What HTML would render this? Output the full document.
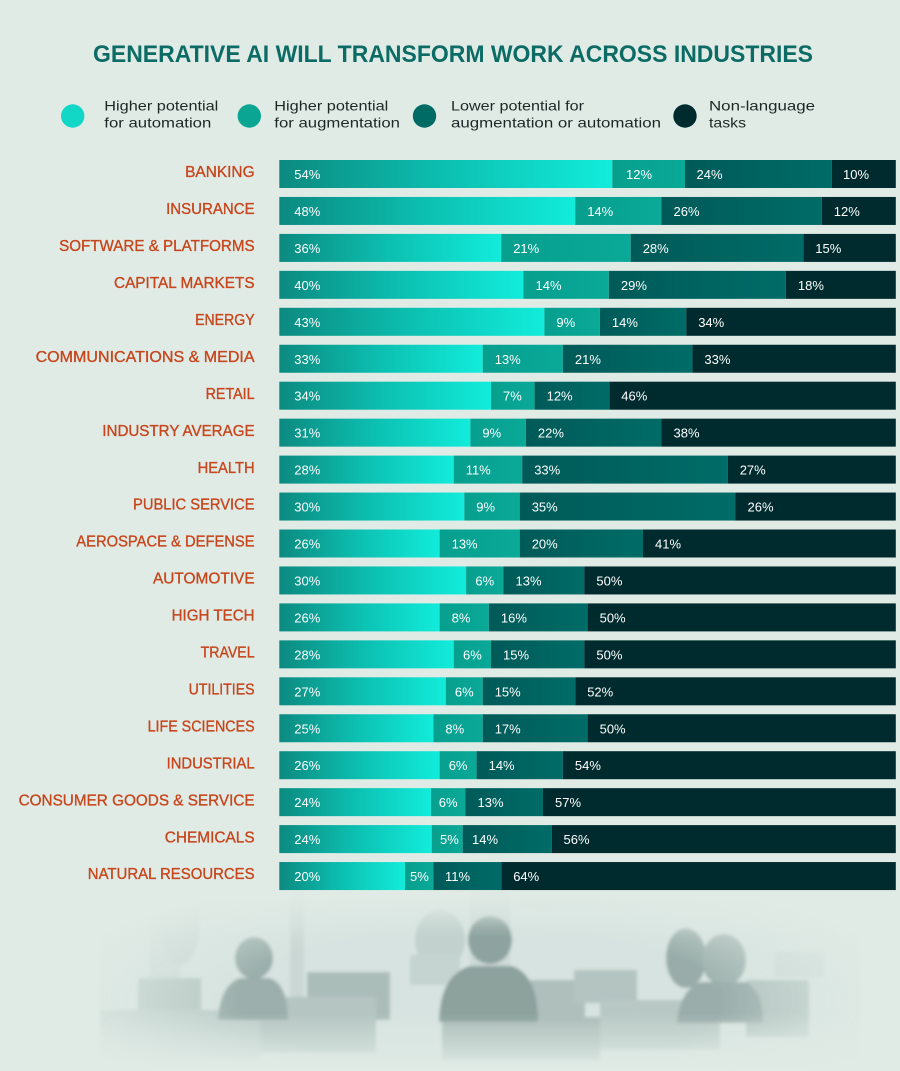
<!DOCTYPE html>
<html>
<head>
<meta charset="utf-8">
<style>
html,body{margin:0;padding:0;background:#e0ebe6;}
svg{display:block;}
.lb{font-family:"Liberation Sans",sans-serif;font-size:16px;fill:#c8461c;stroke:#c8461c;stroke-width:0.35;text-anchor:end;}
.v{font-family:"Liberation Sans",sans-serif;font-size:13px;fill:#ffffff;}
.lg{font-family:"Liberation Sans",sans-serif;font-size:14px;fill:#1c2826;}
</style>
</head>
<body>
<svg width="900" height="1071" viewBox="0 0 900 1071" xmlns="http://www.w3.org/2000/svg">
<defs>
<linearGradient id="g1" x1="0" x2="1" y1="0" y2="0"><stop offset="0" stop-color="#0c8a80"/><stop offset="0.5" stop-color="#0cc0b1"/><stop offset="1" stop-color="#12ecdb"/></linearGradient>
<linearGradient id="g2" x1="0" x2="1" y1="0" y2="0"><stop offset="0" stop-color="#079f8e"/><stop offset="1" stop-color="#0aa998"/></linearGradient>
<linearGradient id="g3" x1="0" x2="1" y1="0" y2="0"><stop offset="0" stop-color="#005a58"/><stop offset="1" stop-color="#006c67"/></linearGradient>
<radialGradient id="fade" cx="480" cy="1000" r="440" gradientUnits="userSpaceOnUse" gradientTransform="translate(480 1000) scale(1 0.3) translate(-480 -1000)">
<stop offset="0" stop-color="#fff"/><stop offset="0.55" stop-color="#fff"/><stop offset="1" stop-color="#000"/></radialGradient>
<linearGradient id="vfade" x1="0" x2="0" y1="880" y2="1071" gradientUnits="userSpaceOnUse">
<stop offset="0" stop-color="#000"/><stop offset="0.3" stop-color="#fff"/><stop offset="0.7" stop-color="#fff"/><stop offset="1" stop-color="#000"/></linearGradient>
<mask id="m1"><rect x="0" y="860" width="900" height="211" fill="url(#fade)"/></mask>
<mask id="m2"><rect x="0" y="860" width="900" height="211" fill="url(#vfade)"/></mask>
<filter id="bl"><feGaussianBlur stdDeviation="1.6"/></filter>
</defs>

<rect width="900" height="1071" fill="#e0ebe6"/>

<!-- background photo approximation -->
<g mask="url(#m2)">
<g mask="url(#m1)" opacity="0.85">
<g filter="url(#bl)">
<rect x="100" y="900" width="760" height="171" fill="#d5e2de"/>
<rect x="150" y="895" width="30" height="120" fill="#cad8d4"/>
<rect x="290" y="890" width="14" height="140" fill="#c6d4d0"/>
<rect x="470" y="890" width="40" height="80" fill="#c9d7d3"/>
<rect x="520" y="900" width="200" height="8" fill="#cfdcd8"/>
<ellipse cx="440" cy="940" rx="25" ry="30" fill="#bccdc9"/>
<ellipse cx="180" cy="920" rx="20" ry="45" fill="#c4d3cf"/>
<rect x="138" y="978" width="63" height="42" fill="#b0c1bd"/>
<rect x="307" y="972" width="83" height="48" fill="#a2b5b1"/>
<rect x="247" y="997" width="129" height="56" fill="#adbfbb"/>
<rect x="517" y="980" width="68" height="40" fill="#a6b8b4"/>
<rect x="574" y="970" width="63" height="33" fill="#acbeba"/>
<rect x="442" y="1017" width="158" height="43" fill="#a1b4b0"/>
<rect x="746" y="980" width="63" height="57" fill="#aabcb8"/>
<rect x="775" y="952" width="49" height="25" fill="#c8d6d2"/>
<rect x="410" y="955" width="50" height="30" fill="#c0d0cc"/>
<rect x="100" y="1010" width="160" height="50" fill="#b8c9c5"/>
<rect x="600" y="1000" width="120" height="50" fill="#b1c2be"/>
<!-- people -->
<ellipse cx="254" cy="958" rx="19" ry="21" fill="#8ea4a0"/>
<path d="M218 1020 Q220 985 240 978 L270 978 Q288 985 288 1020 Z" fill="#90a5a1"/>
<ellipse cx="490" cy="940" rx="22" ry="24" fill="#7f9692"/>
<path d="M439 1022 Q440 975 470 966 L512 966 Q538 975 538 1022 Z" fill="#7e9490"/>
<ellipse cx="686" cy="958" rx="20" ry="30" fill="#8ca29e"/>
<ellipse cx="724" cy="960" rx="22" ry="26" fill="#95aaa6"/>
<path d="M677 1023 Q680 990 700 982 L745 982 Q763 990 763 1023 Z" fill="#8ea3a0"/>
</g>
</g>
</g>

<!-- title -->
<text x="93" y="62" textLength="720" lengthAdjust="spacingAndGlyphs" style="font-family:'Liberation Sans',sans-serif;font-size:24px;font-weight:bold;fill:#0c6c65;">GENERATIVE AI WILL TRANSFORM WORK ACROSS INDUSTRIES</text>

<!-- legend -->
<circle cx="72.7" cy="116" r="11.7" fill="#12d6c6"/>
<circle cx="249.3" cy="116" r="11.7" fill="#0aa593"/>
<circle cx="424.5" cy="116" r="11.7" fill="#006a65"/>
<circle cx="685" cy="116" r="11.7" fill="#002b2e"/>
<text class="lg" x="104.3" y="110.7" textLength="114" lengthAdjust="spacingAndGlyphs">Higher potential</text>
<text class="lg" x="104.3" y="127.3" textLength="107" lengthAdjust="spacingAndGlyphs">for automation</text>
<text class="lg" x="274.3" y="110.7" textLength="114" lengthAdjust="spacingAndGlyphs">Higher potential</text>
<text class="lg" x="274.3" y="127.3" textLength="125.7" lengthAdjust="spacingAndGlyphs">for augmentation</text>
<text class="lg" x="451" y="110.7" textLength="133" lengthAdjust="spacingAndGlyphs">Lower potential for</text>
<text class="lg" x="451" y="127.3" textLength="210" lengthAdjust="spacingAndGlyphs">augmentation or automation</text>
<text class="lg" x="709" y="110.7" textLength="106" lengthAdjust="spacingAndGlyphs">Non-language</text>
<text class="lg" x="709" y="127.3" textLength="37" lengthAdjust="spacingAndGlyphs">tasks</text>

<!-- rows -->
<g transform="translate(0,160)">
<text class="lb" x="254.6" y="17.2" textLength="69.5" lengthAdjust="spacingAndGlyphs">BANKING</text>
<rect x="279.3" y="0" width="333" height="28" fill="url(#g1)"/>
<rect x="612.3" y="0" width="72.7" height="28" fill="url(#g2)"/>
<rect x="685" y="0" width="146.7" height="28" fill="url(#g3)"/>
<rect x="831.7" y="0" width="64.1" height="28" fill="#002b2e"/>
<text class="v" x="294.3" y="19">54%</text><text class="v" x="626" y="19">12%</text><text class="v" x="696.5" y="19">24%</text><text class="v" x="843" y="19">10%</text>
</g>

<g transform="translate(0,196.95)">
<text class="lb" x="254.6" y="17.2" textLength="88.5" lengthAdjust="spacingAndGlyphs">INSURANCE</text>
<rect x="279.3" y="0" width="295.9" height="28" fill="url(#g1)"/>
<rect x="575.2" y="0" width="86.3" height="28" fill="url(#g2)"/>
<rect x="661.5" y="0" width="160.3" height="28" fill="url(#g3)"/>
<rect x="821.8" y="0" width="74" height="28" fill="#002b2e"/>
<text class="v" x="294.3" y="19">48%</text><text class="v" x="587.2" y="19">14%</text><text class="v" x="673.5" y="19">26%</text><text class="v" x="833.8" y="19">12%</text>
</g>

<g transform="translate(0,233.9)">
<text class="lb" x="254.6" y="17.2" textLength="195.5" lengthAdjust="spacingAndGlyphs">SOFTWARE &amp; PLATFORMS</text>
<rect x="279.3" y="0" width="221.9" height="28" fill="url(#g1)"/>
<rect x="501.2" y="0" width="129.5" height="28" fill="url(#g2)"/>
<rect x="630.7" y="0" width="172.6" height="28" fill="url(#g3)"/>
<rect x="803.3" y="0" width="92.5" height="28" fill="#002b2e"/>
<text class="v" x="294.3" y="19">36%</text><text class="v" x="513.2" y="19">21%</text><text class="v" x="642.7" y="19">28%</text><text class="v" x="815.3" y="19">15%</text>
</g>

<g transform="translate(0,270.85)">
<text class="lb" x="254.6" y="17.2" textLength="140.6" lengthAdjust="spacingAndGlyphs">CAPITAL MARKETS</text>
<rect x="279.3" y="0" width="244.2" height="28" fill="url(#g1)"/>
<rect x="523.5" y="0" width="85.4" height="28" fill="url(#g2)"/>
<rect x="608.9" y="0" width="177" height="28" fill="url(#g3)"/>
<rect x="785.9" y="0" width="109.9" height="28" fill="#002b2e"/>
<text class="v" x="294.3" y="19">40%</text><text class="v" x="535.5" y="19">14%</text><text class="v" x="620.9" y="19">29%</text><text class="v" x="797.9" y="19">18%</text>
</g>

<g transform="translate(0,307.8)">
<text class="lb" x="254.6" y="17.2" textLength="59.5" lengthAdjust="spacingAndGlyphs">ENERGY</text>
<rect x="279.3" y="0" width="265.1" height="28" fill="url(#g1)"/>
<rect x="544.4" y="0" width="55.5" height="28" fill="url(#g2)"/>
<rect x="599.9" y="0" width="86.3" height="28" fill="url(#g3)"/>
<rect x="686.2" y="0" width="209.6" height="28" fill="#002b2e"/>
<text class="v" x="294.3" y="19">43%</text><text class="v" x="556.4" y="19">9%</text><text class="v" x="611.9" y="19">14%</text><text class="v" x="698.2" y="19">34%</text>
</g>

<g transform="translate(0,344.75)">
<text class="lb" x="254.6" y="17.2" textLength="219" lengthAdjust="spacingAndGlyphs">COMMUNICATIONS &amp; MEDIA</text>
<rect x="279.3" y="0" width="203.4" height="28" fill="url(#g1)"/>
<rect x="482.7" y="0" width="80.2" height="28" fill="url(#g2)"/>
<rect x="562.9" y="0" width="129.5" height="28" fill="url(#g3)"/>
<rect x="692.4" y="0" width="203.4" height="28" fill="#002b2e"/>
<text class="v" x="294.3" y="19">33%</text><text class="v" x="494.7" y="19">13%</text><text class="v" x="574.9" y="19">21%</text><text class="v" x="704.4" y="19">33%</text>
</g>

<g transform="translate(0,381.7)">
<text class="lb" x="254.6" y="17.2" textLength="49" lengthAdjust="spacingAndGlyphs">RETAIL</text>
<rect x="279.3" y="0" width="211.7" height="28" fill="url(#g1)"/>
<rect x="491" y="0" width="43.6" height="28" fill="url(#g2)"/>
<rect x="534.6" y="0" width="74.7" height="28" fill="url(#g3)"/>
<rect x="609.3" y="0" width="286.5" height="28" fill="#002b2e"/>
<text class="v" x="294.3" y="19">34%</text><text class="v" x="503" y="19">7%</text><text class="v" x="546.6" y="19">12%</text><text class="v" x="621.3" y="19">46%</text>
</g>

<g transform="translate(0,418.65)">
<text class="lb" x="254.6" y="17.2" textLength="152.3" lengthAdjust="spacingAndGlyphs">INDUSTRY AVERAGE</text>
<rect x="279.3" y="0" width="191.1" height="28" fill="url(#g1)"/>
<rect x="470.4" y="0" width="55.5" height="28" fill="url(#g2)"/>
<rect x="525.9" y="0" width="135.6" height="28" fill="url(#g3)"/>
<rect x="661.5" y="0" width="234.3" height="28" fill="#002b2e"/>
<text class="v" x="294.3" y="19">31%</text><text class="v" x="482.4" y="19">9%</text><text class="v" x="537.9" y="19">22%</text><text class="v" x="673.5" y="19">38%</text>
</g>

<g transform="translate(0,455.6)">
<text class="lb" x="254.6" y="17.2" textLength="57" lengthAdjust="spacingAndGlyphs">HEALTH</text>
<rect x="279.3" y="0" width="174.4" height="28" fill="url(#g1)"/>
<rect x="453.7" y="0" width="68.5" height="28" fill="url(#g2)"/>
<rect x="522.2" y="0" width="205.5" height="28" fill="url(#g3)"/>
<rect x="727.7" y="0" width="168.1" height="28" fill="#002b2e"/>
<text class="v" x="294.3" y="19">28%</text><text class="v" x="465.7" y="19">11%</text><text class="v" x="534.2" y="19">33%</text><text class="v" x="739.7" y="19">27%</text>
</g>

<g transform="translate(0,492.55)">
<text class="lb" x="254.6" y="17.2" textLength="121.6" lengthAdjust="spacingAndGlyphs">PUBLIC SERVICE</text>
<rect x="279.3" y="0" width="185" height="28" fill="url(#g1)"/>
<rect x="464.3" y="0" width="55.4" height="28" fill="url(#g2)"/>
<rect x="519.7" y="0" width="215.8" height="28" fill="url(#g3)"/>
<rect x="735.5" y="0" width="160.3" height="28" fill="#002b2e"/>
<text class="v" x="294.3" y="19">30%</text><text class="v" x="476.3" y="19">9%</text><text class="v" x="531.7" y="19">35%</text><text class="v" x="747.5" y="19">26%</text>
</g>

<g transform="translate(0,529.5)">
<text class="lb" x="254.6" y="17.2" textLength="178.3" lengthAdjust="spacingAndGlyphs">AEROSPACE &amp; DEFENSE</text>
<rect x="279.3" y="0" width="160.3" height="28" fill="url(#g1)"/>
<rect x="439.6" y="0" width="80.1" height="28" fill="url(#g2)"/>
<rect x="519.7" y="0" width="123.3" height="28" fill="url(#g3)"/>
<rect x="643" y="0" width="252.8" height="28" fill="#002b2e"/>
<text class="v" x="294.3" y="19">26%</text><text class="v" x="451.6" y="19">13%</text><text class="v" x="531.7" y="19">20%</text><text class="v" x="655" y="19">41%</text>
</g>

<g transform="translate(0,566.45)">
<text class="lb" x="254.6" y="17.2" textLength="101.6" lengthAdjust="spacingAndGlyphs">AUTOMOTIVE</text>
<rect x="279.3" y="0" width="186.8" height="28" fill="url(#g1)"/>
<rect x="466.1" y="0" width="37.4" height="28" fill="url(#g2)"/>
<rect x="503.5" y="0" width="80.9" height="28" fill="url(#g3)"/>
<rect x="584.4" y="0" width="311.4" height="28" fill="#002b2e"/>
<text class="v" x="294.3" y="19">30%</text><text class="v" x="475.4" y="19">6%</text><text class="v" x="515.5" y="19">13%</text><text class="v" x="596.4" y="19">50%</text>
</g>

<g transform="translate(0,603.4)">
<text class="lb" x="254.6" y="17.2" textLength="83" lengthAdjust="spacingAndGlyphs">HIGH TECH</text>
<rect x="279.3" y="0" width="160.3" height="28" fill="url(#g1)"/>
<rect x="439.6" y="0" width="49.3" height="28" fill="url(#g2)"/>
<rect x="488.9" y="0" width="98.7" height="28" fill="url(#g3)"/>
<rect x="587.6" y="0" width="308.2" height="28" fill="#002b2e"/>
<text class="v" x="294.3" y="19">26%</text><text class="v" x="451.6" y="19">8%</text><text class="v" x="500.9" y="19">16%</text><text class="v" x="599.6" y="19">50%</text>
</g>

<g transform="translate(0,640.35)">
<text class="lb" x="254.6" y="17.2" textLength="54" lengthAdjust="spacingAndGlyphs">TRAVEL</text>
<rect x="279.3" y="0" width="174.4" height="28" fill="url(#g1)"/>
<rect x="453.7" y="0" width="37.3" height="28" fill="url(#g2)"/>
<rect x="491" y="0" width="93.4" height="28" fill="url(#g3)"/>
<rect x="584.4" y="0" width="311.4" height="28" fill="#002b2e"/>
<text class="v" x="294.3" y="19">28%</text><text class="v" x="463" y="19">6%</text><text class="v" x="503" y="19">15%</text><text class="v" x="596.4" y="19">50%</text>
</g>

<g transform="translate(0,677.3)">
<text class="lb" x="254.6" y="17.2" textLength="66" lengthAdjust="spacingAndGlyphs">UTILITIES</text>
<rect x="279.3" y="0" width="166.5" height="28" fill="url(#g1)"/>
<rect x="445.8" y="0" width="36.9" height="28" fill="url(#g2)"/>
<rect x="482.7" y="0" width="92.5" height="28" fill="url(#g3)"/>
<rect x="575.2" y="0" width="320.6" height="28" fill="#002b2e"/>
<text class="v" x="294.3" y="19">27%</text><text class="v" x="454.9" y="19">6%</text><text class="v" x="494.7" y="19">15%</text><text class="v" x="587.2" y="19">52%</text>
</g>

<g transform="translate(0,714.25)">
<text class="lb" x="254.6" y="17.2" textLength="107" lengthAdjust="spacingAndGlyphs">LIFE SCIENCES</text>
<rect x="279.3" y="0" width="154.1" height="28" fill="url(#g1)"/>
<rect x="433.4" y="0" width="49.3" height="28" fill="url(#g2)"/>
<rect x="482.7" y="0" width="104.9" height="28" fill="url(#g3)"/>
<rect x="587.6" y="0" width="308.2" height="28" fill="#002b2e"/>
<text class="v" x="294.3" y="19">25%</text><text class="v" x="445.4" y="19">8%</text><text class="v" x="494.7" y="19">17%</text><text class="v" x="599.6" y="19">50%</text>
</g>

<g transform="translate(0,751.2)">
<text class="lb" x="254.6" y="17.2" textLength="88" lengthAdjust="spacingAndGlyphs">INDUSTRIAL</text>
<rect x="279.3" y="0" width="160.3" height="28" fill="url(#g1)"/>
<rect x="439.6" y="0" width="37" height="28" fill="url(#g2)"/>
<rect x="476.6" y="0" width="86.3" height="28" fill="url(#g3)"/>
<rect x="562.9" y="0" width="332.9" height="28" fill="#002b2e"/>
<text class="v" x="294.3" y="19">26%</text><text class="v" x="448.7" y="19">6%</text><text class="v" x="488.6" y="19">14%</text><text class="v" x="574.9" y="19">54%</text>
</g>

<g transform="translate(0,788.15)">
<text class="lb" x="254.6" y="17.2" textLength="236" lengthAdjust="spacingAndGlyphs">CONSUMER GOODS &amp; SERVICE</text>
<rect x="279.3" y="0" width="151.7" height="28" fill="url(#g1)"/>
<rect x="431" y="0" width="34.5" height="28" fill="url(#g2)"/>
<rect x="465.5" y="0" width="77.5" height="28" fill="url(#g3)"/>
<rect x="543" y="0" width="352.8" height="28" fill="#002b2e"/>
<text class="v" x="294.3" y="19">24%</text><text class="v" x="438.8" y="19">6%</text><text class="v" x="477.5" y="19">13%</text><text class="v" x="555" y="19">57%</text>
</g>

<g transform="translate(0,825.1)">
<text class="lb" x="254.6" y="17.2" textLength="89.8" lengthAdjust="spacingAndGlyphs">CHEMICALS</text>
<rect x="279.3" y="0" width="152.4" height="28" fill="url(#g1)"/>
<rect x="431.7" y="0" width="31" height="28" fill="url(#g2)"/>
<rect x="462.7" y="0" width="89" height="28" fill="url(#g3)"/>
<rect x="551.7" y="0" width="344.1" height="28" fill="#002b2e"/>
<text class="v" x="294.3" y="19">24%</text><text class="v" x="440" y="19">5%</text><text class="v" x="472" y="19">14%</text><text class="v" x="563.5" y="19">56%</text>
</g>

<g transform="translate(0,862.05)">
<text class="lb" x="254.6" y="17.2" textLength="166.8" lengthAdjust="spacingAndGlyphs">NATURAL RESOURCES</text>
<rect x="279.3" y="0" width="125.7" height="28" fill="url(#g1)"/>
<rect x="405" y="0" width="28.4" height="28" fill="url(#g2)"/>
<rect x="433.4" y="0" width="67.8" height="28" fill="url(#g3)"/>
<rect x="501.2" y="0" width="394.6" height="28" fill="#002b2e"/>
<text class="v" x="294.3" y="19">20%</text><text class="v" x="410" y="19">5%</text><text class="v" x="445" y="19">11%</text><text class="v" x="513.2" y="19">64%</text>
</g>
</svg>
</body>
</html>
